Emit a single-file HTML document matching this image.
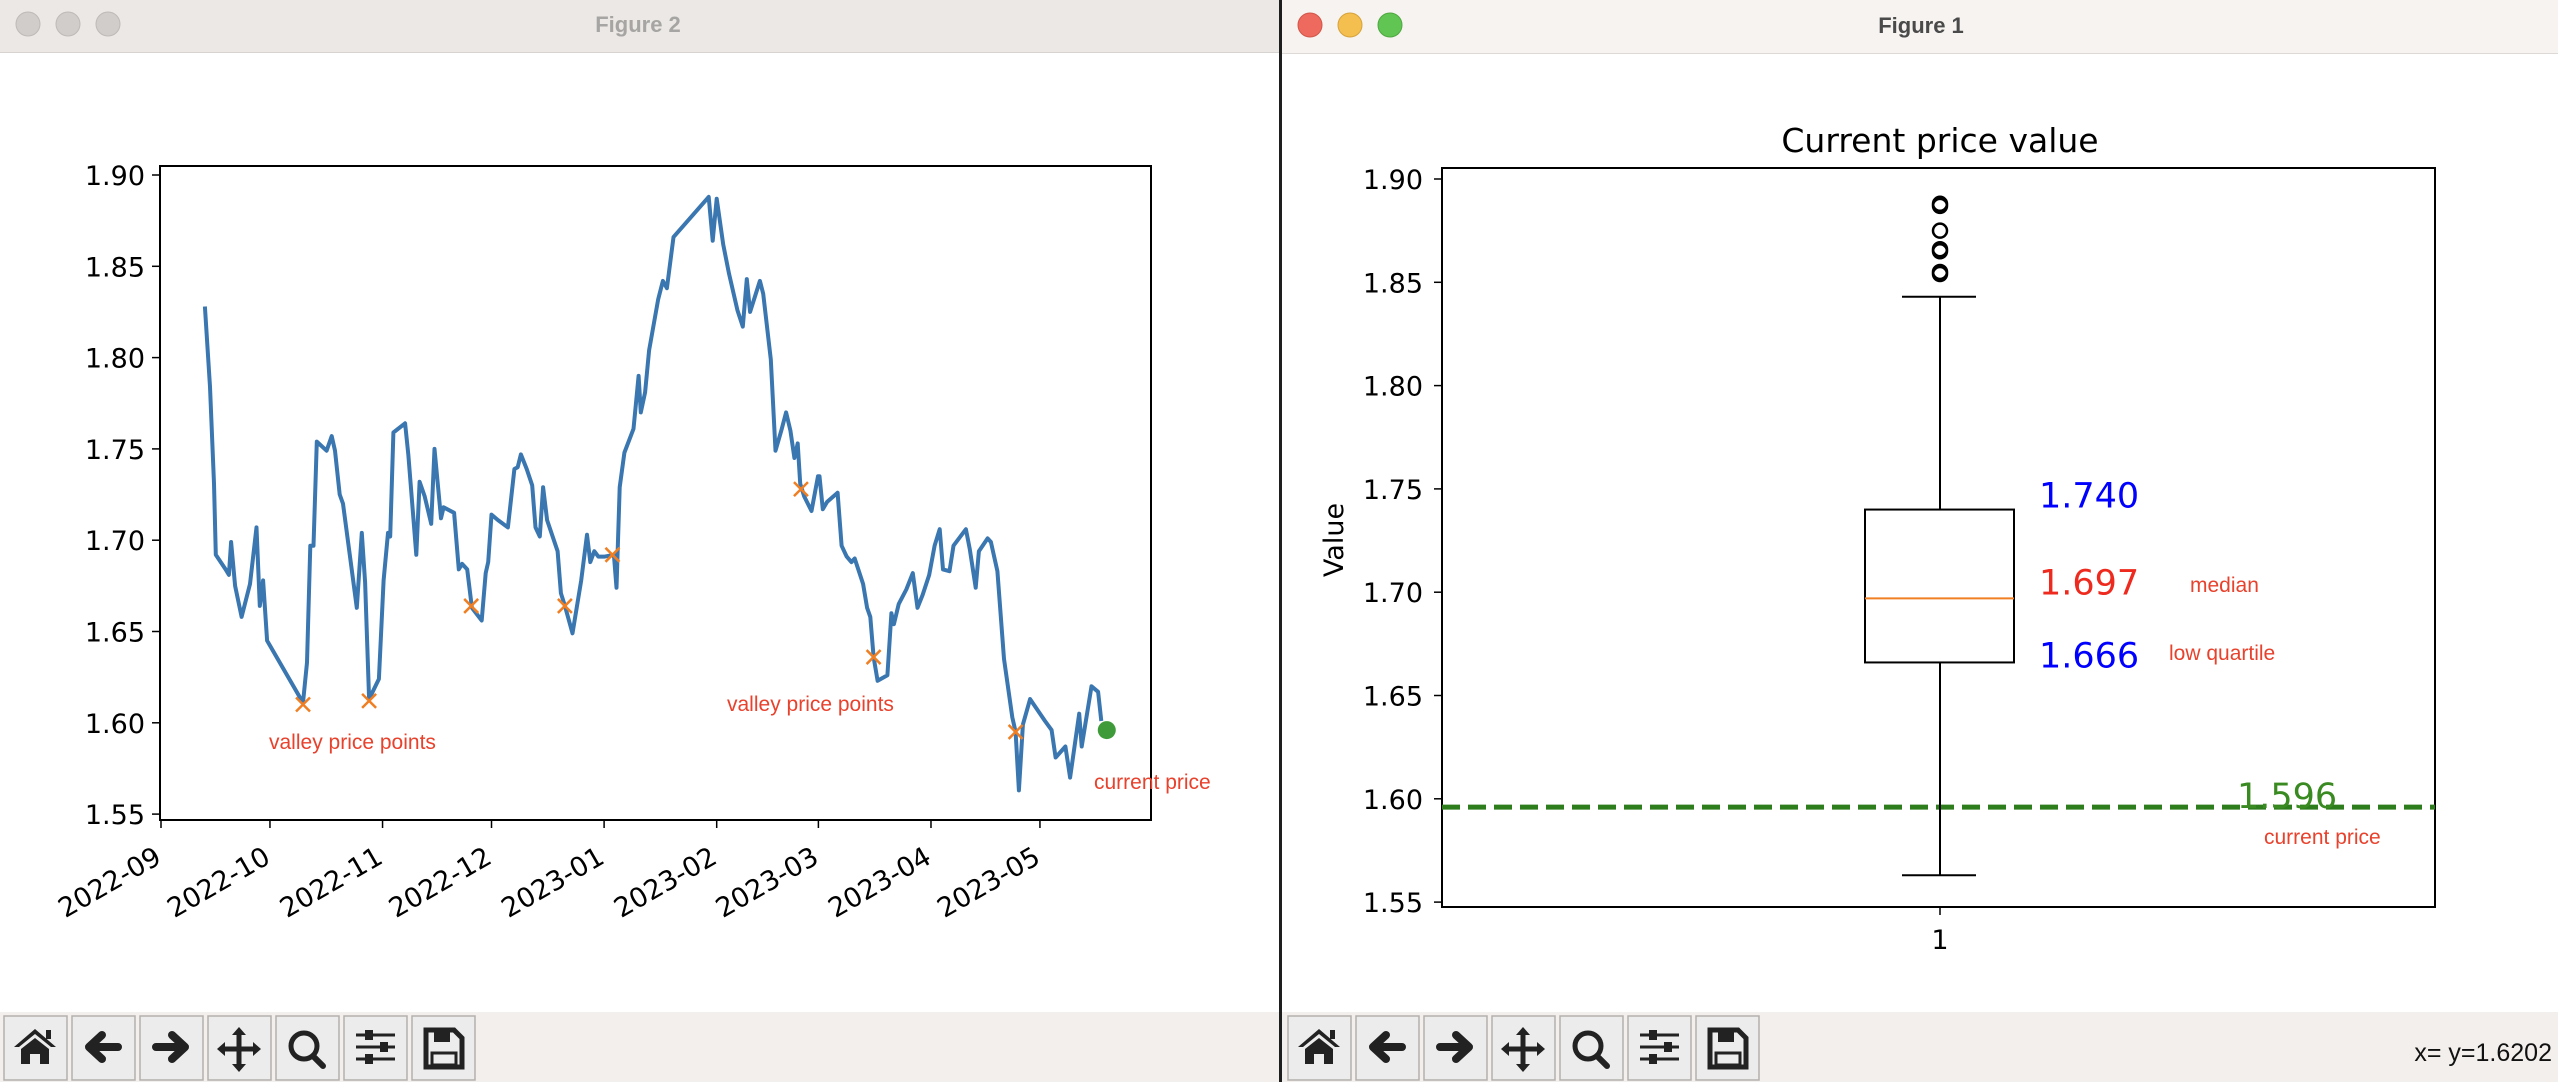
<!DOCTYPE html>
<html><head><meta charset="utf-8"><style>
html,body{margin:0;padding:0;width:2558px;height:1082px;overflow:hidden;background:#1e1e1e;font-family:"DejaVu Sans",sans-serif}
</style></head><body>
<svg id="root" width="2558" height="1082" xmlns="http://www.w3.org/2000/svg">
<g>
<rect x="0" y="0" width="1279" height="1082" fill="#ffffff"/>
<rect x="0" y="0" width="1279" height="52" fill="#ebe8e5"/>
<line x1="0" y1="52.5" x2="1279" y2="52.5" stroke="#d6d3d0"/>
<circle cx="28" cy="24" r="12" fill="#d0cdca" stroke="#bdbab7"/>
<circle cx="68" cy="24" r="12" fill="#d0cdca" stroke="#bdbab7"/>
<circle cx="108" cy="24" r="12" fill="#d0cdca" stroke="#bdbab7"/>
<text x="638" y="32" text-anchor="middle" font-family="Liberation Sans,sans-serif" font-weight="bold" font-size="22" fill="#a7a5a3">Figure 2</text>
<rect x="0" y="1012" width="1279" height="70" fill="#f2efec"/>
<g id="tb2"></g>
<g id="left"></g>
</g>
<g>
<rect x="1282" y="0" width="1276" height="1082" fill="#ffffff"/>
<rect x="1282" y="0" width="1276" height="53" fill="#f6f3f0"/>
<line x1="1282" y1="53.5" x2="2558" y2="53.5" stroke="#dcd9d6"/>
<circle cx="1310" cy="25" r="12" fill="#ee6a5e" stroke="#d25548"/>
<circle cx="1350" cy="25" r="12" fill="#f5bf4f" stroke="#d6a23a"/>
<circle cx="1390" cy="25" r="12" fill="#61c554" stroke="#4ea83f"/>
<text x="1921" y="33" text-anchor="middle" font-family="Liberation Sans,sans-serif" font-weight="bold" font-size="22" fill="#4a4a4a">Figure 1</text>
<rect x="1282" y="1012" width="1276" height="70" fill="#f2efec"/>
<text x="2552" y="1061" text-anchor="end" font-family="Liberation Sans,sans-serif" font-size="25" fill="#111">x= y=1.6202</text>
<g id="tb1"></g>
<g id="right"></g>
</g>
</svg>
<script>
// ---- Line chart data (Figure 2) ----
const dayOffsets = [12.1,13.5,14.6,15.1,17.8,18.7,19.3,20.4,22.2,24.5,26.3,27.2,28.1,29.2,39.1,40.2,41.1,42.0,42.9,45.6,47.0,47.9,49.2,50.1,53.9,55.3,56.2,57.3,60.0,61.3,62.5,63.1,64.0,67.2,68.1,70.3,71.2,72.6,74.4,75.3,77.1,77.8,80.7,82.0,82.9,84.3,85.6,88.3,89.4,90.1,91.0,92.8,95.5,97.3,98.2,99.1,100.7,102.2,103.1,104.3,105.2,106.3,109.2,110.1,111.2,113.3,115.7,117.3,118.2,119.3,120.4,122.2,124.7,125.4,126.3,127.6,130.1,131.5,132.1,133.3,134.4,136.9,138.2,139.3,141.1,150.8,151.9,153.0,154.8,156.4,158.7,160.2,161.3,162.2,164.9,165.8,167.9,169.2,170.8,172.1,173.3,174.4,175.3,176.0,177.1,179.1,180.9,181.3,182.2,183.4,186.3,187.4,188.8,190.1,191.0,193.3,194.4,195.3,196.2,197.3,200.0,201.1,201.8,203.1,205.2,207.0,208.3,209.7,211.5,213.0,214.4,215.3,217.1,218.2,221.6,222.7,224.3,225.2,227.6,228.5,230.3,232.1,234.4,235.3,236.2,237.3,239.3,243.4,245.2,246.3,249.0,250.3,252.8,253.5,256.2,258.0,258.9];
const prices = [1.828,1.784,1.731,1.692,1.684,1.681,1.699,1.675,1.658,1.676,1.707,1.664,1.678,1.645,1.611,1.633,1.697,1.697,1.754,1.749,1.757,1.749,1.725,1.720,1.663,1.704,1.677,1.613,1.624,1.678,1.704,1.702,1.759,1.764,1.747,1.692,1.732,1.724,1.709,1.750,1.712,1.718,1.715,1.684,1.687,1.684,1.663,1.656,1.682,1.688,1.714,1.711,1.707,1.739,1.740,1.747,1.739,1.730,1.707,1.702,1.729,1.711,1.694,1.671,1.664,1.649,1.678,1.703,1.688,1.694,1.691,1.691,1.692,1.674,1.729,1.748,1.761,1.790,1.770,1.781,1.804,1.832,1.842,1.838,1.866,1.888,1.864,1.887,1.862,1.846,1.826,1.817,1.843,1.825,1.842,1.835,1.799,1.749,1.760,1.770,1.760,1.745,1.753,1.731,1.724,1.716,1.735,1.735,1.717,1.721,1.726,1.697,1.691,1.688,1.690,1.676,1.663,1.658,1.636,1.623,1.626,1.660,1.654,1.665,1.673,1.682,1.663,1.670,1.681,1.697,1.706,1.684,1.683,1.697,1.706,1.695,1.674,1.694,1.701,1.699,1.683,1.635,1.603,1.595,1.563,1.599,1.613,1.601,1.596,1.581,1.587,1.570,1.605,1.587,1.620,1.617,1.601];
const valleyDays = [39.1,57.3,85.4,111.2,124.3,176.2,196.2,235.3];
const valleyPrices = [1.610,1.612,1.664,1.664,1.692,1.728,1.636,1.595];
const currentDay = [260.4];
const currentPrice = [1.596];
const monthTickDays = [0,30,61,91,122,153,181,212,242];
const monthTickLabels = ["2022-09","2022-10","2022-11","2022-12","2023-01","2023-02","2023-03","2023-04","2023-05"];
const yTicksLeft = [1.55,1.60,1.65,1.70,1.75,1.80,1.85,1.90];
// ---- Box plot data (Figure 1) ----
const boxStats = [1.563,1.666,1.697,1.740,1.843];
const outliers = [1.888,1.887,1.875,1.866,1.865,1.855,1.854];
const currentLevel = [1.596];
const yTicksRight = [1.55,1.60,1.65,1.70,1.75,1.80,1.85,1.90];

const NS="http://www.w3.org/2000/svg";
function mk(parent,tag,attrs,text){const e=document.createElementNS(NS,tag);for(const k in attrs)e.setAttribute(k,attrs[k]);if(text!==undefined)e.textContent=text;parent.appendChild(e);return e;}

const L=document.getElementById('left');
const lx=d=>161+d*3.632;
const ly=v=>175+(1.90-v)/0.05*91.3;
let frame=mk(L,'rect',{x:160,y:166,width:991,height:654,fill:'none',stroke:'#000','stroke-width':2});


yTicksLeft.forEach(v=>{
  const t=mk(L,'line',{x1:152,x2:160,y1:ly(v),y2:ly(v),stroke:'#000','stroke-width':1.5});
  
  
  const lb=mk(L,'text',{x:145,y:ly(v)+10,'text-anchor':'end','font-size':27,fill:'#000'},v.toFixed(2));
  
  
});
monthTickDays.forEach((d,i)=>{
  const x=lx(d);
  const t=mk(L,'line',{x1:x,x2:x,y1:820,y2:828,stroke:'#000','stroke-width':1.5});
  
  
  const lb=mk(L,'text',{x:0,y:0,'text-anchor':'end','font-size':27,fill:'#000',transform:`translate(${x+2} 862) rotate(-30)`},monthTickLabels[i]);
  
  
});
const pts=dayOffsets.map((d,i)=>lx(d).toFixed(1)+','+ly(prices[i]).toFixed(1)).join(' ');
const pl=mk(L,'polyline',{points:pts,fill:'none',stroke:'#3a76b0','stroke-width':4,'stroke-linejoin':'round'});


valleyDays.forEach((d,i)=>{
  const x=lx(d),y=ly(valleyPrices[i]),s=7;
  const g=mk(L,'path',{d:`M${x-s},${y-s}L${x+s},${y+s}M${x-s},${y+s}L${x+s},${y-s}`,stroke:'#f07f23','stroke-width':2.5});
  
  
});
currentDay.forEach((d,i)=>{
  const c=mk(L,'circle',{cx:lx(d),cy:ly(currentPrice[i]),r:9,fill:'#3f9b3a'});
  
  
});
[[269,749,'valley price points'],[727,711,'valley price points'],[1094,789,'current price']].forEach(a=>{
  const t=mk(L,'text',{x:a[0],y:a[1],'font-family':'Liberation Sans,sans-serif','font-size':21,fill:'#e8412c'},a[2]);
  
  
});

const R=document.getElementById('right');
const ry=v=>179+(1.90-v)/0.05*103.3;
const cx=1940;
let fr=mk(R,'rect',{x:1442,y:168,width:993,height:739,fill:'none',stroke:'#000','stroke-width':2});


yTicksRight.forEach(v=>{
  const t=mk(R,'line',{x1:1434,x2:1442,y1:ry(v),y2:ry(v),stroke:'#000','stroke-width':1.5});
  
  
  const lb=mk(R,'text',{x:1423,y:ry(v)+10,'text-anchor':'end','font-size':27,fill:'#000'},v.toFixed(2));
  
  
});
let xt=mk(R,'line',{x1:cx,x2:cx,y1:907,y2:915,stroke:'#000','stroke-width':1.5});


let xl=mk(R,'text',{x:cx,y:949,'text-anchor':'middle','font-size':27,fill:'#000'},'1');


let ti=mk(R,'text',{x:cx,y:152,'text-anchor':'middle','font-size':33,fill:'#000'},'Current price value');


let yl=mk(R,'text',{x:1343,y:540,'text-anchor':'middle','font-size':27,fill:'#000',transform:'rotate(-90 1343 540)'},'Value');


let dl=mk(R,'line',{x1:1442,x2:2435,y1:ry(currentLevel[0]),y2:ry(currentLevel[0]),stroke:'#2e7d1c','stroke-width':5,'stroke-dasharray':'18 8'});


let w1=mk(R,'line',{x1:cx,x2:cx,y1:ry(boxStats[3]),y2:ry(boxStats[4]),stroke:'#000','stroke-width':2});


let w2=mk(R,'line',{x1:cx,x2:cx,y1:ry(boxStats[1]),y2:ry(boxStats[0]),stroke:'#000','stroke-width':2});


[boxStats[0],boxStats[4]].forEach(v=>{
  const c=mk(R,'line',{x1:1902,x2:1976,y1:ry(v),y2:ry(v),stroke:'#000','stroke-width':2});
  
  
});
let bx=mk(R,'rect',{x:1865,y:ry(boxStats[3]),width:149,height:ry(boxStats[1])-ry(boxStats[3]),fill:'none',stroke:'#000','stroke-width':2});


let md=mk(R,'line',{x1:1865,x2:2014,y1:ry(boxStats[2]),y2:ry(boxStats[2]),stroke:'#f07f23','stroke-width':2});


outliers.forEach(v=>{
  const o=mk(R,'circle',{cx:cx,cy:ry(v),r:7,fill:'none',stroke:'#000','stroke-width':2.5});
  
  
});
[[2039,ry(boxStats[3])-2,boxStats[3].toFixed(3),'#0000ff'],[2039,ry(boxStats[2])-4,boxStats[2].toFixed(3),'#ee2a1e'],[2039,ry(boxStats[1])+5,boxStats[1].toFixed(3),'#0000ff'],[2237,ry(currentLevel[0])+1,currentLevel[0].toFixed(3),'#3a8a22']].forEach(a=>{
  const t=mk(R,'text',{x:a[0],y:a[1],'font-size':35,fill:a[3]},a[2]);
  
  
});
[[2190,592,'median'],[2169,660,'low quartile'],[2264,844,'current price']].forEach(a=>{
  const t=mk(R,'text',{x:a[0],y:a[1],'font-family':'Liberation Sans,sans-serif','font-size':21,fill:'#e8412c'},a[2]);
  
  
});

const icons=['home','back','forward','pan','zoom','configure','save'];
function drawIcon(g,name,x,y){
  const c='#222';
  if(name==='home'){mk(g,'path',{d:`M${x+10},${y+20}L${x+31},${y+2}L${x+52},${y+20}L${x+47},${y+20}L${x+31},${y+7}L${x+15},${y+20}Z M${x+17},${y+22}L${x+31},${y+11}L${x+45},${y+22}L${x+45},${y+37}L${x+36},${y+37}L${x+36},${y+27}L${x+26},${y+27}L${x+26},${y+37}L${x+17},${y+37}Z M${x+42},${y+3}h5v9h-5z`,fill:c});}
  if(name==='back'){mk(g,'path',{d:`M${x+46},${y+20}H${x+18}M${x+30},${y+8}L${x+17},${y+20}L${x+30},${y+32}`,stroke:c,'stroke-width':8,fill:'none','stroke-linecap':'round','stroke-linejoin':'round'});}
  if(name==='forward'){mk(g,'path',{d:`M${x+16},${y+20}H${x+44}M${x+32},${y+8}L${x+45},${y+20}L${x+32},${y+32}`,stroke:c,'stroke-width':8,fill:'none','stroke-linecap':'round','stroke-linejoin':'round'});}
  if(name==='pan'){mk(g,'path',{d:`M${x+31},${y+4}V${y+40}M${x+13},${y+22}H${x+49}`,stroke:c,'stroke-width':5});mk(g,'path',{d:`M${x+31},${y}l-7,8h14z M${x+31},${y+45}l-7,-8h14z M${x+9},${y+22}l8,-7v14z M${x+53},${y+22}l-8,-7v14z`,fill:c});}
  if(name==='zoom'){mk(g,'circle',{cx:x+28,cy:y+19,r:13,fill:'none',stroke:c,'stroke-width':5});mk(g,'line',{x1:x+37,y1:y+29,x2:x+47,y2:y+39,stroke:c,'stroke-width':6,'stroke-linecap':'round'});}
  if(name==='configure'){[[8,25],[20,40],[32,25]].forEach(r=>{mk(g,'line',{x1:x+12,x2:x+51,y1:y+r[0],y2:y+r[0],stroke:c,'stroke-width':3});mk(g,'rect',{x:x+r[1]-4,y:y+r[0]-5,width:8,height:10,fill:c});});}
  if(name==='save'){mk(g,'path',{d:`M${x+14},${y+3}H${x+42}L${x+50},${y+11}V${y+40}H${x+14}Z`,fill:'none',stroke:c,'stroke-width':5});mk(g,'rect',{x:x+22,y:y+3,width:16,height:12,fill:c});mk(g,'rect',{x:x+20,y:y+26,width:24,height:12,fill:'none',stroke:c,'stroke-width':3});}
}
[['tb2',4],['tb1',1288]].forEach(([id,x0])=>{
  const g=document.getElementById(id);
  icons.forEach((n,i)=>{
    const x=x0+i*68;
    const b=mk(g,'rect',{x:x,y:1016,width:63,height:64,fill:'#ececec',stroke:'#b3b0ad','stroke-width':1.5});
    
    
    drawIcon(g,n,x,1027);
  });
});
</script>
</body></html>
